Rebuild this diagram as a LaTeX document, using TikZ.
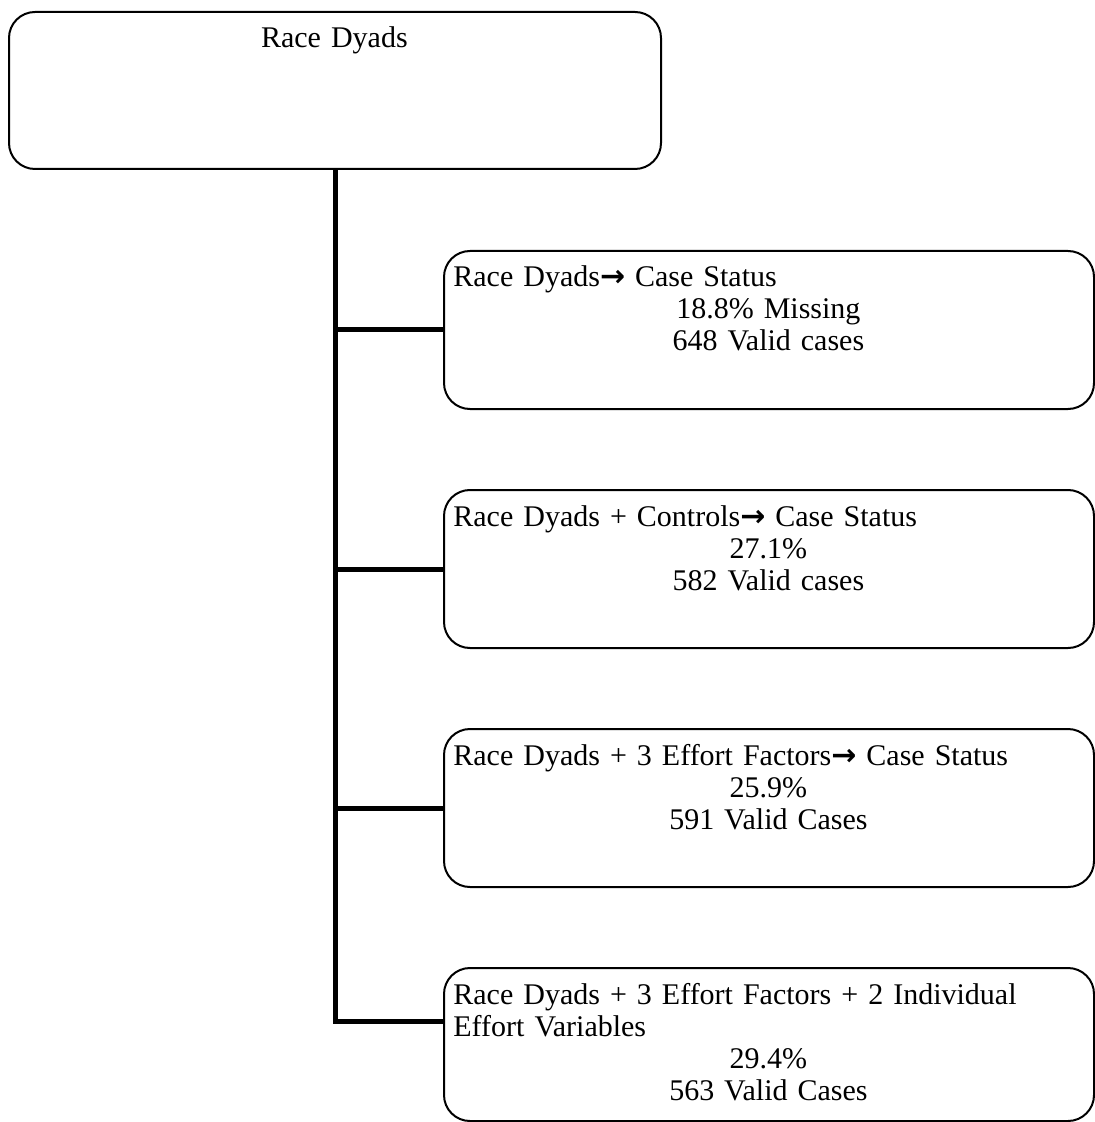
\documentclass[tikz,border=0pt]{standalone}
\usepackage{fontspec}
\setmainfont{Liberation Serif}
\newfontfamily\arrowfont{DejaVu Sans}
\newcommand{\rarr}{{\arrowfont\bfseries →}}
\begin{document}
\begin{tikzpicture}[x=0.5pt,y=-0.5pt,
  panel/.style={draw, line width=1pt, rounded corners=13pt, inner sep=0pt,
    anchor=north west, minimum width=325pt, minimum height=79pt},
  caption/.style={anchor=base west, inner sep=0pt, text width=315pt, align=left,
    font=\fontsize{15}{16}\selectfont, xshift=5pt, yshift=-18.5pt},
  link/.style={line width=2.5pt}]
\useasboundingbox (0,0) rectangle (1094,1122);

% boxes
\node[panel, minimum width=326pt, minimum height=78.5pt] (root) at (8,11) {};
\node[panel] (b1) at (443,250) {};
\node[panel] (b2) at (443,489) {};
\node[panel] (b3) at (443,728) {};
\node[panel, minimum height=76.5pt] (b4) at (443,967) {};
\coordinate (b4in) at ([yshift=-27pt]b4.north west);

% texts
\node[caption, text width=316pt, align=center] (troot) at (root.north west) {Race Dyads};
\node[caption] (t1) at (b1.north west)
  {Race Dyads\rarr{} Case Status\par\centering 18.8\% Missing\par 648 Valid cases\par};
\node[caption] (t2) at (b2.north west)
  {Race Dyads + Controls\rarr{} Case Status\par\centering 27.1\%\par 582 Valid cases\par};
\node[caption] (t3) at (b3.north west)
  {Race Dyads + 3 Effort Factors\rarr{} Case Status\par\centering 25.9\%\par 591 Valid Cases\par};
\node[caption] (t4) at (b4.north west)
  {Race Dyads + 3 Effort Factors + 2 Individual\par Effort Variables\par\centering 29.4\%\par 563 Valid Cases\par};

% tree connectors
\draw[link] (root.south) -- (root.south |- b4in) -- (b4in);
\draw[link] (root.south |- b1.west) -- (b1.west);
\draw[link] (root.south |- b2.west) -- (b2.west);
\draw[link] (root.south |- b3.west) -- (b3.west);
\end{tikzpicture}
\end{document}
